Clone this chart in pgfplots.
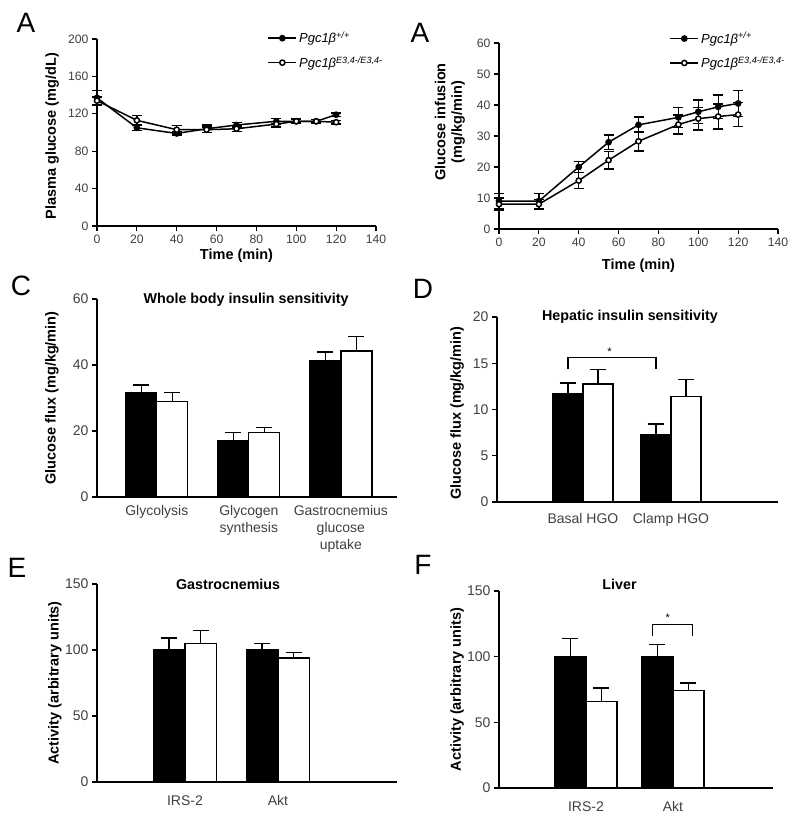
\documentclass[border=0pt]{standalone}
\usepackage{fontspec}
\setmainfont{Liberation Sans}
\usepackage{pgfplots}
\pgfplotsset{compat=1.18}

\pgfplotsset{
  base/.style={
    scale only axis, axis lines=left, axis line style={-, line width=1.5pt},
    tick align=outside, major tick length=5pt,
    every tick/.style={black, line width=1.2pt},
    tick label style={font=\fontsize{12.2}{14}\selectfont, text=black!75},
    label style={font=\bfseries\fontsize{14.5}{16.5}\selectfont},
    title style={font=\bfseries\fontsize{14.3}{16}\selectfont, yshift=-6pt},
    /pgf/number format/assume math mode=true,
    enlargelimits=false, clip=false,
  },
  linech/.style={base, xmin=0, xmax=140, xtick={0,20,...,140}, xlabel={Time (min)},
    legend style={draw=none, fill=none, font=\itshape\fontsize{13}{15}\selectfont,
      row sep=8pt, cells={anchor=west}},
    legend image code/.code={\draw[mark repeat=2,mark phase=2,##1] plot coordinates {(0pt,0pt)(14pt,0pt)(28pt,0pt)};},
  },
  filled/.style={black, line width=1.5pt, mark=*, mark size=2.6pt, mark options={fill=black, solid},
    error bars/y dir=both, error bars/y explicit, error bars/error mark=|,
    error bars/error bar style={line width=1.3pt},
    error bars/error mark options={line width=1.3pt, mark size=5pt}},
  open/.style={black, line width=1.5pt, mark=*, mark size=2.6pt, mark options={fill=white, solid},
    error bars/y dir=both, error bars/y explicit, error bars/error mark=|,
    error bars/error bar style={line width=1.3pt},
    error bars/error mark options={line width=1.3pt, mark size=5pt}},
  barch/.style={base, ybar=0pt, xtick={1,2,3}, major x tick style={draw=none}, ymin=0,
    tick label style={font=\fontsize{14}{17}\selectfont},
    xticklabel style={align=center}},
  blk/.style={fill=black, draw=black, line width=1.3pt,
    error bars/y dir=plus, error bars/y explicit, error bars/error mark=|,
    error bars/error bar style={line width=1.5pt},
    error bars/error mark options={line width=1.5pt, mark size=8pt}},
  wht/.style={fill=white, draw=black, line width=1.3pt,
    error bars/y dir=plus, error bars/y explicit, error bars/error mark=|,
    error bars/error bar style={line width=1.5pt},
    error bars/error mark options={line width=1.5pt, mark size=8pt}},
}

\begin{document}
\begin{tikzpicture}
\path[use as bounding box] (0,0) rectangle (800pt,-826pt);

% panel A, plasma glucose
\begin{axis}[linech, at={(97pt,-226pt)}, anchor=south west,
  width=279pt, height=187pt, ymin=0, ymax=200, ytick={0,40,...,200},
  ylabel={Plasma glucose (mg/dL)},
  ylabel style={at={(axis description cs:-0.161,0.48)}, anchor=center},
  xlabel style={at={(axis description cs:0.5,-0.16)}, anchor=center},
  legend style={at={(0.60,1.06)}, anchor=north west}]
\addplot[filled] coordinates {(0,137)+-(0,8) (20,105)+-(0,2.5) (40,99)+-(0,2) (55,104)+-(0,4)
  (70,108)+-(0,3) (90,112)+-(0,3) (100,112)+-(0,2.5) (110,112)+-(0,2) (120,119)+-(0,2)};
\addlegendentry{Pgc1β\textsuperscript{+/+}}
\addplot[open] coordinates {(0,134)+-(0,4) (20,113)+-(0,5) (40,103)+-(0,4.5) (55,103)+-(0,3)
  (70,104)+-(0,3) (90,109)+-(0,3) (100,112)+-(0,2) (110,112)+-(0,2) (120,111)+-(0,2)};
\addlegendentry{Pgc1β\textsuperscript{E3,4-/E3,4-}}
\end{axis}

% panel A, glucose infusion
\begin{axis}[linech, at={(499pt,-229pt)}, anchor=south west,
  width=279pt, height=186pt, ymin=0, ymax=60, ytick={0,10,...,60},
  ylabel={Glucose infusion\\(mg/kg/min)},
  ylabel style={at={(axis description cs:-0.176,0.575)}, anchor=center, align=center},
  xlabel style={at={(axis description cs:0.5,-0.2)}, anchor=center},
  legend style={at={(0.60,1.08)}, anchor=north west}]
\addplot[filled] coordinates {(0,9)+-(0,2.5) (20,9)+-(0,2.5) (40,20)+-(0,1.7) (55,28)+-(0,2.3)
  (70,33.6)+-(0,2.5) (90,36)+-(0,3.2) (100,37.8)+-(0,3.8) (110,39.4)+-(0,3.8) (120,40.5)+-(0,4.2)};
\addlegendentry{Pgc1β\textsuperscript{+/+}}
\addplot[open] coordinates {(0,8)+-(0,2) (20,8)+-(0,1.5) (40,15.6)+-(0,2.6) (55,22.2)+-(0,2.8)
  (70,28.3)+-(0,3.1) (90,33.7)+-(0,3.1) (100,35.6)+-(0,3.7) (110,36.3)+-(0,4) (120,36.9)+-(0,3.8)};
\addlegendentry{Pgc1β\textsuperscript{E3,4-/E3,4-}}
\end{axis}

% panel C
\begin{axis}[barch, at={(97pt,-497pt)}, anchor=south west,
  width=300pt, height=198pt, xmin=0.35, xmax=3.61, ymax=60, ytick={0,20,40,60},
  bar width=31pt,
  xticklabels={Glycolysis, {Glycogen\\synthesis}, {Gastrocnemius\\glucose\\uptake}},
  title={Whole body insulin sensitivity},
  title style={at={(axis description cs:0.497,0.995)}, anchor=center},
  ylabel={Glucose flux (mg/kg/min)},
  ylabel style={at={(axis description cs:-0.15,0.5)}, anchor=center}]
\addplot[blk] coordinates {(1,31.6)+-(0,2.3) (2,17.2)+-(0,2.4) (3,41.3)+-(0,2.6)};
\addplot[wht] coordinates {(1,28.9)+-(0,2.7) (2,19.5)+-(0,1.6) (3,44.2)+-(0,4.5)};
\end{axis}

% panel D
\begin{axis}[barch, at={(497pt,-502pt)}, anchor=south west,
  width=281pt, height=185pt, xmin=0.023, xmax=3.216, ymax=20, ytick={0,5,...,20},
  bar width=30pt, xtick={1,2},
  xticklabels={Basal HGO, Clamp HGO},
  xticklabel style={yshift=-3pt},
  title={Hepatic insulin sensitivity},
  title style={at={(axis description cs:0.473,1.0)}, anchor=center},
  ylabel={Glucose flux (mg/kg/min)},
  ylabel style={at={(axis description cs:-0.142,0.48)}, anchor=center}]
\addplot[blk] coordinates {(1,11.74)+-(0,1.1) (2,7.3)+-(0,1.15)};
\addplot[wht] coordinates {(1,12.75)+-(0,1.55) (2,11.38)+-(0,1.87)};
\draw[line width=1.2pt] (axis cs:0.83,14.4) -- (axis cs:0.83,15.6) -- (axis cs:1.83,15.6) -- (axis cs:1.83,14.4);
\node[font=\fontsize{11}{12}\selectfont] at (axis cs:1.30,16.3) {*};
\end{axis}

% panel E
\begin{axis}[barch, at={(97pt,-782pt)}, anchor=south west,
  width=300pt, height=198pt, xmin=0.054, xmax=3.28, ymax=150, ytick={0,50,100,150},
  bar width=31.5pt, xtick={1,2},
  xticklabels={IRS-2, Akt},
  xticklabel style={yshift=-5pt},
  title={Gastrocnemius},
  title style={at={(axis description cs:0.437,0.998)}, anchor=center},
  ylabel={Activity (arbitrary units)},
  ylabel style={at={(axis description cs:-0.14,0.5)}, anchor=center}]
\addplot[blk] coordinates {(1,100)+-(0,9) (2,100)+-(0,5)};
\addplot[wht] coordinates {(1,105)+-(0,9.8) (2,94)+-(0,4)};
\end{axis}

% panel F
\begin{axis}[barch, at={(499pt,-788pt)}, anchor=south west,
  width=274pt, height=197pt, xmin=0, xmax=3.15, ymax=150, ytick={0,50,100,150},
  bar width=31pt, xtick={1,2},
  xticklabels={IRS-2, Akt},
  xticklabel style={yshift=-5pt},
  title={Liver},
  title style={at={(axis description cs:0.44,1.035)}, anchor=center},
  ylabel={Activity (arbitrary units)},
  ylabel style={at={(axis description cs:-0.153,0.5)}, anchor=center}]
\addplot[blk] coordinates {(1,100.3)+-(0,13.5) (2,100)+-(0,9.2)};
\addplot[wht] coordinates {(1,65.9)+-(0,10.4) (2,74.2)+-(0,5.8)};
\draw[line width=1.2pt] (axis cs:1.76,115.8) -- (axis cs:1.76,124.6) -- (axis cs:2.22,124.6) -- (axis cs:2.22,115.8);
\node[font=\fontsize{11}{12}\selectfont] at (axis cs:1.94,129.5) {*};
\end{axis}

% panel letters
\node[font=\fontsize{28}{30}\selectfont] at (26pt,-23pt) {A};
\node[font=\fontsize{28}{30}\selectfont] at (420pt,-33pt) {A};
\node[font=\fontsize{28}{30}\selectfont] at (21pt,-286pt) {C};
\node[font=\fontsize{28}{30}\selectfont] at (423pt,-289pt) {D};
\node[font=\fontsize{28}{30}\selectfont] at (17pt,-568pt) {E};
\node[font=\fontsize{28}{30}\selectfont] at (423pt,-565pt) {F};
\end{tikzpicture}
\end{document}
